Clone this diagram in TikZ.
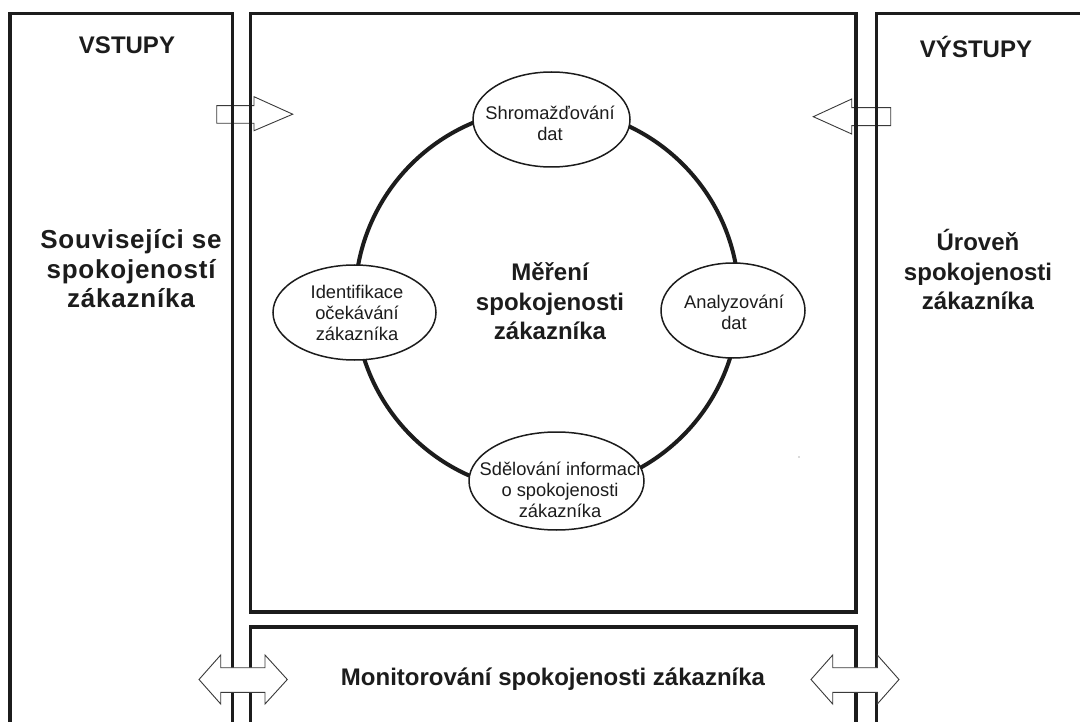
\documentclass[tikz,border=0pt]{standalone}
\usepackage{fontspec}
\setmainfont{Liberation Sans}
\usetikzlibrary{shapes.geometric}
\definecolor{ink}{HTML}{1C1C1C}
\definecolor{outline}{HTML}{3A3A3A}

\begin{document}
\begin{tikzpicture}[x=1pt,y=-1pt,
  frame/.style={draw=ink, line width=3.8pt},
  loopline/.style={draw=ink, line width=4pt},
  stage/.style={ellipse, draw=ink, line width=1.5pt, fill=white, inner sep=0pt},
  stagetext/.style={text=ink, align=center, inner sep=0pt,
    font=\fontsize{18.3}{21}\selectfont},
  heading/.style={text=ink, align=center, inner sep=0pt,
    font=\fontsize{24}{29.5}\selectfont\bfseries},
  wideheading/.style={heading,
    font=\fontsize{26}{29.5}\selectfont\bfseries\addfontfeature{LetterSpace=3}},
  blockarrow/.style={draw=outline, line width=0.9pt, fill=white, line join=miter}
]
\useasboundingbox (0,0) rectangle (1080,722);
\fill[white] (0,0) rectangle (1080,722);

\begin{scope}
\clip (0,0) rectangle (1080,722);

% input / output arrows at the top (sit behind the frame lines)
\draw[blockarrow] (216.7,105.7) -- (254,105.7) -- (254,96.7) -- (292.7,114.2)
  -- (254,130.7) -- (254,123.3) -- (216.7,123.3) -- cycle;
\draw[blockarrow] (890.7,107.7) -- (851.7,107.7) -- (851.7,99) -- (813.3,116.7)
  -- (851.7,134) -- (851.7,125.7) -- (890.7,125.7) -- cycle;

% frames
\draw[frame] (10,740) -- (10,13.5) -- (232.5,13.5) -- (232.5,740);
\draw[frame] (250.5,13.5) rectangle (856,612);
\draw[frame] (876.5,740) -- (876.5,13.5) -- (1095,13.5);
\draw[frame] (250.5,740) -- (250.5,627) -- (856,627) -- (856,740);

% two-way arrows across the frame gaps at the bottom
\draw[blockarrow] (199,679.5) -- (220.7,655) -- (220.7,667.7) -- (265,667.7)
  -- (265,655) -- (287.3,679.5) -- (265,704) -- (265,692.3) -- (220.7,692.3)
  -- (220.7,704) -- cycle;
\draw[blockarrow] (811,679.5) -- (832.7,655) -- (832.7,667.7) -- (877.3,667.7)
  -- (877.3,655) -- (899,679.5) -- (877.3,704) -- (877.3,692.3) -- (832.7,692.3)
  -- (832.7,704) -- cycle;
\end{scope}

% measurement cycle
\node[circle, loopline, minimum size=384pt, inner sep=0pt] (cycle) at (547,300) {};

\node[stage, minimum width=157pt, minimum height=95pt] (collect) at (551.5,119.5) {};
\node[stagetext] (collectT) at (550,123.5) {Shromažďování\\dat};

\node[stage, minimum width=163pt, minimum height=95pt] (identify) at (354.5,312.5) {};
\node[stagetext] (identifyT) at (357,313) {Identifikace\\očekávání\\zákazníka};

\node[stage, minimum width=144pt, minimum height=95pt] (analyse) at (733,310.5) {};
\node[stagetext] (analyseT) at (734,312) {Analyzování\\dat};

\node[stage, minimum width=175pt, minimum height=98pt] (report) at (556.5,481) {};
\node[stagetext] (reportT) at (560,490) {Sdělování informaci\\o spokojenosti\\zákazníka};

\fill[ink!70] (799,457) circle[radius=0.6];

% headings
\node[heading] (inputs) at (127,45) {VSTUPY};
\node[heading] (outputs) at (976,47) {VÝSTUPY};
\node[wideheading] (related) at (131,269) {Souvisejíci se\\spokojeností\\zákazníka};
\node[heading] (level) at (978,269.5) {Úroveň\\spokojenosti\\zákazníka};
\node[heading] (measure) at (550,301.5) {Měření\\spokojenosti\\zákazníka};
\node[heading] (monitor) at (553,679) {Monitorování spokojenosti zákazníka};
\end{tikzpicture}
\end{document}
